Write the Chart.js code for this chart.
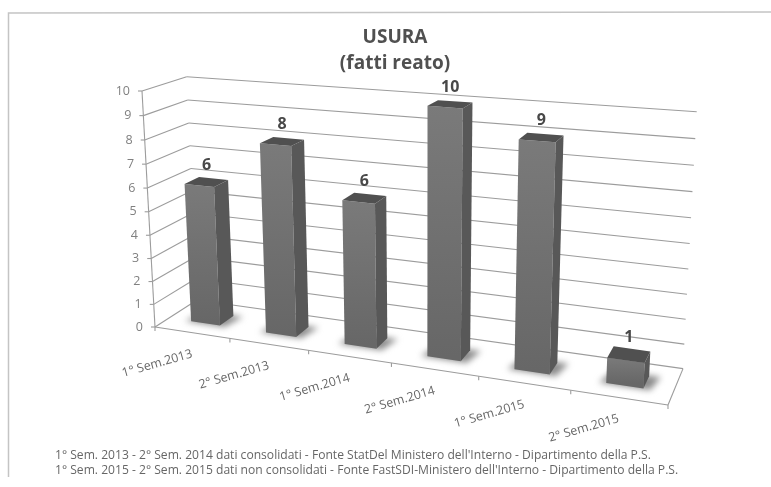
<!DOCTYPE html>
<html>
<head>
<meta charset="utf-8">
<script src="https://cdn.jsdelivr.net/npm/chart.js@4"></script>
<style>
  html, body { margin: 0; padding: 0; background: #fff; }
  canvas { display: block; filter: blur(0.55px); }
</style>
</head>
<body>
<canvas id="usura" width="771" height="487"></canvas>
<script>
var categories = ["1° Sem.2013", "2° Sem.2013", "1° Sem.2014", "2° Sem.2014", "1° Sem.2015", "2° Sem.2015"];
var values = [6, 8, 6, 10, 9, 1];
var titleLines = ["USURA", "(fatti reato)"];
var noteLines = [
    "1° Sem. 2013 - 2° Sem. 2014 dati consolidati - Fonte StatDel Ministero dell'Interno - Dipartimento della P.S.",
    "1° Sem. 2015 - 2° Sem. 2015 dati non consolidati - Fonte FastSDI-Ministero dell'Interno - Dipartimento della P.S."
];

Chart.defaults.font.family = "'Open Sans', sans-serif";

// box corners on screen: origin, end of x, top of y, back of floor + perspective weights
var box = { a: [155, 327], u: [668, 405], v: [142, 91], w: [197, 300], du: -0.145, dv: -0.046, dw: 0.06 };
var depthFront = 0.32, depthBack = 0.66;

function project(u, v, w) {
    var d = 1 + box.du * u + box.dv * v + box.dw * w;
    function axis(i) {
        return box.a[i]
            + (box.u[i] * (1 + box.du) - box.a[i]) * u
            + (box.v[i] * (1 + box.dv) - box.a[i]) * v
            + (box.w[i] * (1 + box.dw) - box.a[i]) * w;
    }
    return [axis(0) / d, axis(1) / d];
}

function toU(chart, px) { return (px - chart.chartArea.left) / chart.chartArea.width; }
function toV(chart, py) { return (chart.chartArea.bottom - py) / chart.chartArea.height; }

function poly(ctx, pts, fill) {
    ctx.beginPath();
    ctx.moveTo(pts[0][0], pts[0][1]);
    for (var i = 1; i < pts.length; i++) ctx.lineTo(pts[i][0], pts[i][1]);
    ctx.closePath();
    ctx.fillStyle = fill;
    ctx.fill();
}

function line(ctx, p, q) {
    ctx.beginPath();
    ctx.moveTo(p[0], p[1]);
    ctx.lineTo(q[0], q[1]);
    ctx.stroke();
}

var perspective = {
    id: "perspective",
    beforeDraw: function (chart) {
        var ctx = chart.ctx;
        ctx.save();
        ctx.fillStyle = "#fff";
        ctx.fillRect(0, 0, chart.width, chart.height);
        ctx.strokeStyle = "#c4c4c4";
        ctx.lineWidth = 1.5;
        ctx.beginPath();
        ctx.moveTo(8.5, 477);
        ctx.lineTo(8.5, 13);
        ctx.lineTo(771, 12);
        ctx.stroke();
        ctx.restore();
    },
    beforeDatasetsDraw: function (chart) {
        var ctx = chart.ctx, xs = chart.scales.x, ys = chart.scales.y;
        ctx.save();
        ctx.strokeStyle = "#9c9c9c";
        ctx.lineWidth = 1.1;

        // walls and y ticks
        ctx.fillStyle = "#808080";
        ctx.font = "12.5px 'Open Sans', sans-serif";
        ctx.textAlign = "right";
        ctx.textBaseline = "middle";
        ys.ticks.forEach(function (t) {
            var v = toV(chart, ys.getPixelForValue(t.value));
            var front = project(0, v, 0), back = project(0, v, 1), end = project(1, v, 1);
            line(ctx, front, back);
            line(ctx, back, end);
            line(ctx, [front[0] - 4, front[1]], front);
            ctx.fillText(t.label, front[0] - 12, front[1]);
        });
        line(ctx, project(0, 0, 0), project(0, 1, 0));

        // floor edges and x ticks
        line(ctx, project(0, 0, 0), project(1, 0, 0));
        line(ctx, project(1, 0, 0), project(1, 0, 1));
        for (var i = 0; i <= categories.length; i++) {
            var p = project(i / categories.length, 0, 0);
            line(ctx, p, [p[0], p[1] + 4]);
        }

        // x labels follow the floor edge
        ctx.fillStyle = "#666";
        ctx.font = "12.4px 'Open Sans', sans-serif";
        categories.forEach(function (c, idx) {
            var q = project(toU(chart, xs.getPixelForValue(idx)), 0, 0);
            ctx.save();
            ctx.translate(q[0], q[1] + 21);
            ctx.rotate(-16 * Math.PI / 180);
            ctx.fillText(c, 0, 0);
            ctx.restore();
        });
        ctx.restore();
    },
    beforeDatasetDraw: function (chart, args) {
        var ctx = chart.ctx;
        args.meta.data.forEach(function (bar, idx) {
            var half = bar.width / 2;
            var u0 = toU(chart, bar.x - half), u1 = toU(chart, bar.x + half);
            var v0 = toV(chart, bar.base), v1 = toV(chart, bar.y);
            var a = depthFront, b = depthBack;

            // soft shadow on the floor
            ctx.save();
            ctx.filter = "blur(3px)";
            poly(ctx, [project(u0 - 0.012, 0, a - 0.02), project(u1 + 0.012, 0, a - 0.02),
                project(u1 + 0.02, 0, b + 0.02), project(u0, 0, b + 0.02)], "#8c8c8c");
            ctx.restore();

            var fl = project(u0, v1, a), fr = project(u1, v1, a);
            var bl = project(u0, v0, a), br = project(u1, v0, a);
            var grad = ctx.createLinearGradient(0, fl[1], 0, bl[1]);
            grad.addColorStop(0, "#7a7a7a");
            grad.addColorStop(1, "#676767");
            poly(ctx, [fl, fr, br, bl], grad);
            poly(ctx, [fr, project(u1, v1, b), project(u1, v0, b), br], "#585858");
            poly(ctx, [fl, project(u0, v1, b), project(u1, v1, b), fr], "#505050");

            // value label above the top face
            var top = project((u0 + u1) / 2, v1, (a + b) / 2);
            ctx.save();
            ctx.fillStyle = "#484848";
            ctx.font = "bold 16px 'Open Sans', sans-serif";
            ctx.textAlign = "center";
            ctx.textBaseline = "middle";
            ctx.fillText(String(values[idx]), top[0], top[1] - 17);
            ctx.restore();
        });
        return false;
    }
};

new Chart(document.getElementById("usura"), {
    type: "bar",
    data: {
        labels: categories,
        datasets: [{
            data: values,
            backgroundColor: "#777",
            barPercentage: 0.39,
            categoryPercentage: 1
        }]
    },
    plugins: [perspective],
    options: {
        responsive: false,
        animation: false,
        layout: { padding: { left: 55, right: 36 } },
        scales: {
            x: { display: false },
            y: { display: false, min: 0, max: 10, ticks: { stepSize: 1 } }
        },
        plugins: {
            legend: { display: false },
            tooltip: { enabled: false },
            title: {
                display: true,
                text: titleLines,
                color: "#505050",
                font: { size: 19, weight: "bold", lineHeight: 1.4 },
                padding: { top: 24, bottom: 10 }
            },
            subtitle: {
                display: true,
                position: "bottom",
                align: "start",
                text: noteLines,
                color: "#666",
                font: { size: 12.1, lineHeight: 1.24 },
                padding: { top: 10, bottom: 9 }
            }
        }
    }
});
</script>
</body>
</html>
